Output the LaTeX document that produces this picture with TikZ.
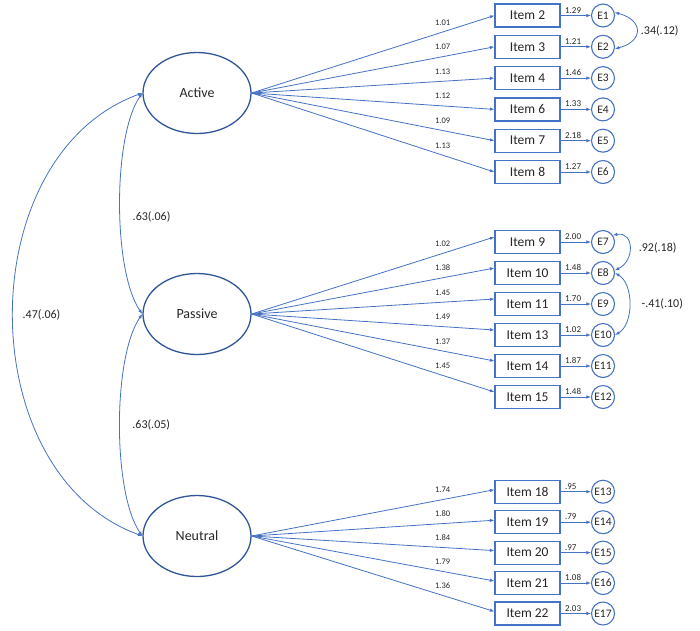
\documentclass[tikz,border=0pt]{standalone}
\usepackage{fontspec}
\setmainfont{Carlito}
\usepackage{xcolor}
\usetikzlibrary{positioning, arrows.meta, shapes.geometric}
\definecolor{PathBlue}{RGB}{68,114,196}
\definecolor{LatentBlue}{RGB}{47,85,151}
\colorlet{TextGrey}{black!85}
\tikzset{
  latent/.style={ellipse, draw=LatentBlue, line width=1.3pt, minimum width=108pt, minimum height=81pt,
    inner sep=0pt, font=\fontsize{14}{16}\selectfont, text=TextGrey},
  obs/.style={draw=PathBlue, line width=1.2pt, minimum width=65pt, minimum height=23pt, inner sep=0pt,
    font=\fontsize{13.5}{15}\selectfont, text=TextGrey},
  errc/.style={circle, draw=PathBlue, line width=1.1pt, minimum size=23pt, inner sep=0pt,
    font=\fontsize{11.5}{12}\selectfont, text=TextGrey},
  load/.style={-{Latex[length=4.5pt,width=3.5pt]}, PathBlue, line width=0.8pt},
  covar/.style={{Latex[length=4.5pt,width=3.5pt]}-{Latex[length=4.5pt,width=3.5pt]}, PathBlue, line width=0.8pt},
  est/.style={font=\fontsize{8.5}{9}\selectfont, text=TextGrey, inner sep=0.5pt},
  errest/.style={font=\fontsize{9}{10}\selectfont, text=TextGrey, inner sep=0.5pt},
  covlab/.style={font=\fontsize{12}{13}\selectfont, text=TextGrey, inner sep=0pt},
}

\begin{document}
\begin{tikzpicture}[x=1pt, y=1pt]
  \useasboundingbox (0,0) rectangle (700,-630);
  % latent factors
  \node[latent] (act) at (197,-93) {Active};
  \node[latent] (pas) at (197,-314) {Passive};
  \node[latent] (neu) at (197,-536) {Neutral};
  % Active items
  \foreach \n/\y/\l/\e [count=\k from 1] in {2/15.5/1.01/1.29, 3/46.8/1.07/1.21, 4/78.1/1.13/1.46,
      6/109.4/1.12/1.33, 7/140.7/1.09/2.18, 8/172/1.13/1.27} {
    \node[obs] (it\n) at (527.5,-\y) {Item \n};
    \node[errc] (e\k) at (603,-\y) {E\k};
    \draw[load] (act.east) -- node[est, pos=0.787, above=6pt] (l\n) {\l} (it\n.west);
    \draw[load] (it\n.east) -- node[errest, pos=0.12, anchor=south west, yshift=1.5pt] (r\n) {\e} (e\k.west);
  }
  % Passive items
  \foreach \n/\y/\l/\e [count=\k from 7] in {9/242/1.02/2.00, 10/273/1.38/1.48, 11/304/1.45/1.70,
      13/335/1.49/1.02, 14/366/1.37/1.87, 15/397/1.45/1.48} {
    \node[obs] (it\n) at (527.5,-\y) {Item \n};
    \node[errc] (e\k) at (603,-\y) {E\k};
    \draw[load] (pas.east) -- node[est, pos=0.787, above=6pt] (l\n) {\l} ([yshift=5pt]it\n.west);
    \draw[load] (it\n.east) -- node[errest, pos=0.12, anchor=south west, yshift=1.5pt] (r\n) {\e} (e\k.west);
  }
  % Neutral items
  \foreach \n/\y/\l/\e [count=\k from 13] in {18/491.7/1.74/.95, 19/522.2/1.80/.79, 20/552.6/1.84/.97,
      21/583/1.79/1.08, 22/613.5/1.36/2.03} {
    \node[obs] (it\n) at (527.5,-\y) {Item \n};
    \node[errc] (e\k) at (603,-\y) {E\k};
    \draw[load] (neu.east) -- node[est, pos=0.787, above=6pt] (l\n) {\l} ([yshift=2pt]it\n.west);
    \draw[load] (it\n.east) -- node[errest, pos=0.12, anchor=south west, yshift=1.5pt] (r\n) {\e} (e\k.west);
  }
  % factor covariances
  \draw[covar] (act.west) to[out=-125, in=125, looseness=0.6]
    node[covlab, pos=0.55, right=12pt] (cap) {.63(.06)} (pas.west);
  \draw[covar] (pas.west) to[out=-125, in=125, looseness=0.6]
    node[covlab, pos=0.5, right=12pt] (cpn) {.63(.05)} (neu.west);
  \draw[covar] (act.west) to[out=-160, in=160, looseness=1.06]
    node[covlab, pos=0.5, right=9pt] (can) {.47(.06)} (neu.west);
  % error covariances
  \draw[covar] (e1.15) to[out=-15, in=15, looseness=2.1]
    node[covlab, pos=0.5, right=4pt] (c12) {.34(.12)} (e2.-10);
  \draw[covar] (e7.35) to[out=10, in=25, looseness=1.6]
    node[covlab, pos=0.5, right=9pt] (c78) {.92(.18)} (e8.13);
  \draw[covar] (e8.east) to[out=-30, in=30, looseness=0.9]
    node[covlab, pos=0.5, right=12pt] (c810) {-.41(.10)} (e10.east);
\end{tikzpicture}
\end{document}
